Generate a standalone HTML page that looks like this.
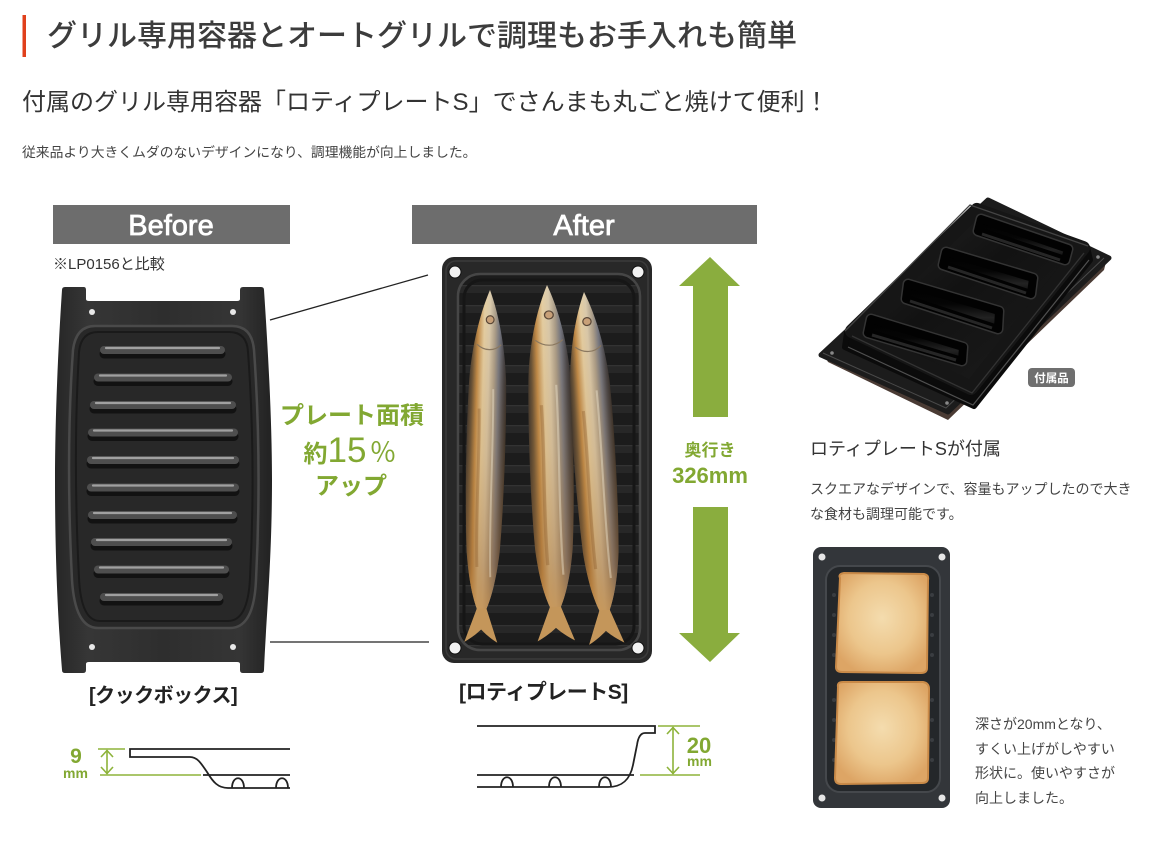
<!DOCTYPE html>
<html><head><meta charset="utf-8">
<style>
html,body{margin:0;padding:0;background:#fff;}
body{width:1153px;height:841px;position:relative;overflow:hidden;}
.t{position:absolute;white-space:nowrap;font-family:"Liberation Sans","Noto Sans CJK JP",sans-serif;line-height:1;color:#333;}
svg text{font-family:"Liberation Sans","Noto Sans CJK JP",sans-serif;}
</style></head><body>
<svg width="1153" height="841" style="position:absolute;left:0;top:0" xmlns="http://www.w3.org/2000/svg">
<defs>
  <linearGradient id="bp" x1="0" x2="1" y1="0" y2="0">
    <stop offset="0" stop-color="#262626"/><stop offset="0.15" stop-color="#363636"/>
    <stop offset="0.5" stop-color="#2e2e2e"/><stop offset="0.85" stop-color="#353535"/><stop offset="1" stop-color="#222"/>
  </linearGradient>
  <linearGradient id="fishG" x1="0" x2="1" y1="0" y2="0">
    <stop offset="0" stop-color="#26262a"/><stop offset="0.1" stop-color="#5e4c36"/>
    <stop offset="0.22" stop-color="#c08a48"/><stop offset="0.38" stop-color="#e8d4aa"/>
    <stop offset="0.52" stop-color="#dccfb4"/><stop offset="0.66" stop-color="#aaa090"/>
    <stop offset="0.78" stop-color="#6c7486"/><stop offset="0.9" stop-color="#3a3e4a"/><stop offset="1" stop-color="#1e1e22"/>
  </linearGradient>
  <linearGradient id="fishV" x1="0" x2="0" y1="0" y2="1">
    <stop offset="0" stop-color="#b07a38" stop-opacity="0.05"/><stop offset="0.5" stop-color="#b07a38" stop-opacity="0.25"/>
    <stop offset="0.85" stop-color="#a06a30" stop-opacity="0.5"/><stop offset="1" stop-color="#c08a48" stop-opacity="0.8"/>
  </linearGradient>
  <pattern id="rib" patternUnits="userSpaceOnUse" width="20" height="20">
    <rect width="20" height="20" fill="#1c1c1c"/><rect y="5" width="20" height="8" fill="#272727"/><rect y="5" width="20" height="1.2" fill="#333"/>
  </pattern>
  <radialGradient id="toast" cx="0.5" cy="0.45" r="0.6">
    <stop offset="0" stop-color="#f4dcae"/><stop offset="0.6" stop-color="#ecc68c"/><stop offset="1" stop-color="#dda565"/>
  </radialGradient>
  <linearGradient id="trayTop" x1="0" x2="1" y1="0" y2="1">
    <stop offset="0" stop-color="#262626"/><stop offset="0.45" stop-color="#121212"/><stop offset="1" stop-color="#1e1e1e"/>
  </linearGradient>
  <linearGradient id="comp" x1="0" x2="0" y1="0" y2="1">
    <stop offset="0" stop-color="#000"/><stop offset="0.45" stop-color="#050505"/><stop offset="0.75" stop-color="#222"/><stop offset="1" stop-color="#0a0a0a"/>
  </linearGradient>
  <g id="fish">
    <path d="M0,0 C6,15 16,45 19,90 C21,140 20,220 17,265 C14,295 9,312 5,322 L5,326 L-5,326 L-5,322 C-9,312 -14,295 -17,265 C-20,220 -21,140 -19,90 C-16,45 -6,15 0,0 Z" fill="url(#fishG)"/>
    <path d="M0,0 C6,15 16,45 19,90 C21,140 20,220 17,265 C14,295 9,312 5,322 L5,326 L-5,326 L-5,322 C-9,312 -14,295 -17,265 C-20,220 -21,140 -19,90 C-16,45 -6,15 0,0 Z" fill="url(#fishV)"/>
    <path d="M-8,120 C-6,170 -9,220 -6,280" stroke="#8a5a28" stroke-width="3" fill="none" opacity="0.35"/>
    <path d="M6,100 C8,160 5,230 8,290" stroke="#f2ead8" stroke-width="2" fill="none" opacity="0.4"/>
    <path d="M-5,322 L5,322 L17,356 C10,352 4,347 0,343 C-4,347 -10,352 -17,356 Z" fill="#c4965a"/>
    <circle cx="1" cy="30" r="4" fill="#c8a078" stroke="#5a4838" stroke-width="1.2"/>
    <path d="M-12,55 C-4,62 6,62 13,55" stroke="#8a7860" stroke-width="1.2" fill="none"/>
  </g>
</defs>

<!-- header red bar -->
<rect x="22.5" y="15" width="3.5" height="42" fill="#e0401c"/>

<!-- Before / After bars -->
<rect x="53" y="205" width="237" height="39" fill="#6d6d6d"/>
<text x="171" y="235" font-size="29" fill="#fff" stroke="#fff" stroke-width="0.8" text-anchor="middle">Before</text>
<rect x="412" y="205" width="345" height="39" fill="#6d6d6d"/>
<text x="584" y="235" font-size="29" fill="#fff" stroke="#fff" stroke-width="0.8" text-anchor="middle">After</text>

<!-- Before plate -->
<path d="M62,290 Q62,287 65,287 L84,287 Q86,287 86,290 L86,299 Q86,301 89,301 L237,301 Q240,301 240,299 L240,290 Q240,287 243,287 L261,287 Q264,287 264,290 C268,350 272,420 272,480 C272,560 266,620 264,670 Q264,673 261,673 L243,673 Q240,673 240,670 L240,664 Q240,662 237,662 L89,662 Q86,662 86,664 L86,670 Q86,673 83,673 L65,673 Q62,673 62,670 C58,620 55,560 55,480 C55,420 58,350 62,290 Z" fill="url(#bp)"/>
<path d="M95,326 L232,326 Q252,326 254,350 C259,420 260,500 256,580 Q254,628 230,628 L98,628 Q75,628 72,580 C68,500 68,420 73,350 Q76,326 95,326 Z" fill="#282828" stroke="#4a4a4a" stroke-width="2.5"/>
<path d="M98,332 L229,332 Q247,332 248,352 C253,420 254,500 250,578 Q248,621 228,621 L100,621 Q81,621 79,578 C75,500 75,420 79,352 Q81,332 98,332 Z" fill="none" stroke="#1a1a1a" stroke-width="2"/>
<g stroke-linecap="round">
  <g stroke="#121212" stroke-width="9">
    <line x1="104" y1="354" x2="221" y2="354"/><line x1="98" y1="381.5" x2="228" y2="381.5"/><line x1="94" y1="409" x2="232" y2="409"/><line x1="92" y1="436.5" x2="234" y2="436.5"/><line x1="91" y1="464" x2="235" y2="464"/><line x1="91" y1="491.5" x2="235" y2="491.5"/><line x1="92" y1="519" x2="233" y2="519"/><line x1="95" y1="546" x2="228" y2="546"/><line x1="98" y1="573.5" x2="225" y2="573.5"/><line x1="104" y1="601" x2="219" y2="601"/>
  </g>
  <g stroke="#4e4e4e" stroke-width="8">
    <line x1="104" y1="350" x2="221" y2="350"/><line x1="98" y1="377.5" x2="228" y2="377.5"/><line x1="94" y1="405" x2="232" y2="405"/><line x1="92" y1="432.5" x2="234" y2="432.5"/><line x1="91" y1="460" x2="235" y2="460"/><line x1="91" y1="487.5" x2="235" y2="487.5"/><line x1="92" y1="515" x2="233" y2="515"/><line x1="95" y1="542" x2="228" y2="542"/><line x1="98" y1="569.5" x2="225" y2="569.5"/><line x1="104" y1="597" x2="219" y2="597"/>
  </g>
  <g stroke="#a0a0a0" stroke-width="2.2">
    <line x1="106" y1="348" x2="219" y2="348"/><line x1="100" y1="375.5" x2="226" y2="375.5"/><line x1="96" y1="403" x2="230" y2="403"/><line x1="94" y1="430.5" x2="232" y2="430.5"/><line x1="93" y1="458" x2="233" y2="458"/><line x1="93" y1="485.5" x2="233" y2="485.5"/><line x1="94" y1="513" x2="231" y2="513"/><line x1="97" y1="540" x2="226" y2="540"/><line x1="100" y1="567.5" x2="223" y2="567.5"/><line x1="106" y1="595" x2="217" y2="595"/>
  </g>
</g>
<circle cx="92" cy="312" r="3" fill="#e8e8e8"/><circle cx="233" cy="312" r="3" fill="#e8e8e8"/>
<circle cx="92" cy="647" r="3" fill="#e8e8e8"/><circle cx="233" cy="647" r="3" fill="#e8e8e8"/>

<!-- connector lines -->
<line x1="270" y1="320" x2="428" y2="275" stroke="#222" stroke-width="1.3"/>
<line x1="270" y1="642" x2="429" y2="642" stroke="#222" stroke-width="1.3"/>

<!-- green center text -->
<text x="352" y="423.5" font-size="24" font-weight="bold" fill="#82a832" text-anchor="middle">プレート面積</text>
<text x="350" y="462" fill="#82a832" text-anchor="middle"><tspan font-size="24" font-weight="bold">約</tspan><tspan font-size="35">15</tspan><tspan font-size="27" dx="3">％</tspan></text>
<text x="351" y="494" font-size="24" font-weight="bold" fill="#82a832" text-anchor="middle">アップ</text>

<!-- After plate -->
<rect x="442" y="257" width="210" height="406" rx="12" fill="#282828"/>
<rect x="446" y="261" width="202" height="398" rx="10" fill="none" stroke="#3a3a3a" stroke-width="1.5"/>
<rect x="458" y="274" width="182" height="376" rx="22" fill="url(#rib)" stroke="#464646" stroke-width="2.5"/>
<rect x="464" y="280" width="170" height="364" rx="18" fill="none" stroke="#161616" stroke-width="3"/>
<circle cx="455" cy="272" r="6" fill="#f2f2f2" stroke="#111" stroke-width="1"/>
<circle cx="638" cy="272" r="6" fill="#f2f2f2" stroke="#111" stroke-width="1"/>
<circle cx="455" cy="648" r="6" fill="#f2f2f2" stroke="#111" stroke-width="1"/>
<circle cx="638" cy="648" r="6" fill="#f2f2f2" stroke="#111" stroke-width="1"/>
<use href="#fish" transform="translate(490,290) rotate(1.5) scale(0.97,0.99)"/>
<use href="#fish" transform="translate(547,285) rotate(-1.5) scale(1.1,1)"/>
<use href="#fish" transform="translate(584,292) rotate(-3.7) scale(1.04,0.99)"/>

<!-- arrows -->
<polygon points="710,257 740,286 728,286 728,417 693,417 693,286 679,286" fill="#8aad3e"/>
<polygon points="693,507 728,507 728,633 740,633 710,662 679,633 693,633" fill="#8aad3e"/>
<text x="710" y="456" font-size="17" font-weight="bold" fill="#82a832" text-anchor="middle">奥行き</text>
<text x="710" y="483" font-size="22" font-weight="bold" fill="#82a832" text-anchor="middle">326mm</text>

<!-- Before cross-section -->
<g stroke="#8db33a" stroke-width="1.6" fill="none">
  <line x1="98" y1="749" x2="125" y2="749"/>
  <line x1="100" y1="775" x2="201" y2="775"/>
  <line x1="107" y1="750" x2="107" y2="774"/>
  <polyline points="101,757 107,750.5 113,757"/>
  <polyline points="101,767 107,773.5 113,767"/>
</g>
<text x="76" y="763" font-size="21" font-weight="bold" fill="#82a832" text-anchor="middle">9</text>
<text x="75.5" y="778" font-size="14" font-weight="bold" fill="#82a832" text-anchor="middle">mm</text>
<g stroke="#222" stroke-width="1.8" fill="none">
  <path d="M290,749 L130,749 L130,757 L190,757 C198,757 202,765 207,772 C213,782 218,788 228,788 L290,788"/>
  <line x1="203" y1="775" x2="290" y2="775"/>
  <path d="M232,788 C232,775 244,775 244,788"/>
  <path d="M276,788 C276,775 288,775 288,788"/>
</g>

<!-- After cross-section -->
<g stroke="#222" stroke-width="1.8" fill="none">
  <path d="M477,726 L655,726 L655,733 L645,733 C640,733 638,738 637,745 L633,765 C630,780 622,787 608,787 L477,787"/>
  <line x1="477" y1="775" x2="634" y2="775"/>
  <path d="M501,787 C501,774 513,774 513,787"/>
  <path d="M549,787 C549,774 561,774 561,787"/>
  <path d="M599,787 C599,774 611,774 611,787"/>
</g>
<g stroke="#8db33a" stroke-width="1.6" fill="none">
  <line x1="658" y1="726" x2="700" y2="726"/>
  <line x1="640" y1="775" x2="700" y2="775"/>
  <line x1="673" y1="727" x2="673" y2="774"/>
  <polyline points="667,734 673,727.5 679,734"/>
  <polyline points="667,767 673,773.5 679,767"/>
</g>
<text x="699" y="753" font-size="22" font-weight="bold" fill="#82a832" text-anchor="middle">20</text>
<text x="699.5" y="766" font-size="14" font-weight="bold" fill="#82a832" text-anchor="middle">mm</text>

<!-- 3D tray (right top) -->
<polygon points="828,362 948,420 1104,270 1106,262 948,412 825,356" fill="#4a3b34"/>
<polygon points="821,355 948,412 1109,258 988,200" fill="#1c1c1c" stroke="#1c1c1c" stroke-width="5" stroke-linejoin="round"/>
<path d="M823,353 L946,408 L1104,258" stroke="#4a4a4a" stroke-width="1" fill="none"/>
<circle cx="832" cy="353" r="1.8" fill="#888"/><circle cx="947" cy="403" r="1.8" fill="#888"/><circle cx="1098" cy="257" r="1.8" fill="#888"/>
<polygon points="847,333 972,393 1087,247 1090,260 974,406 845,347" fill="#0b0b0b" stroke="#0b0b0b" stroke-width="6" stroke-linejoin="round"/>
<path d="M848,347 L973,405 L1089,260" stroke="#505050" stroke-width="1.2" fill="none"/>
<polygon points="977,210 1083,248 971,388 852,331" fill="url(#trayTop)" stroke="#161616" stroke-width="14" stroke-linejoin="round"/>
<path d="M845,331 L970,205 L1088,246" stroke="#444" stroke-width="1.3" fill="none"/>
<path d="M852,336 L972,393 L1084,253" stroke="#333" stroke-width="1.3" fill="none"/>
<g stroke-linejoin="round">
  <g stroke="#343434" stroke-width="11" fill="#343434">
    <polygon points="981,219 1068,249 1065,260 978,231"/>
    <polygon points="946,252 1033,278 1031,294 943,265"/>
    <polygon points="908,284 999,311 998,329 906,299"/>
    <polygon points="871,319 963,347 962,361 868,333"/>
  </g>
  <g stroke="#020202" stroke-width="8" fill="url(#comp)">
    <polygon points="981,219 1068,249 1065,260 978,231"/>
    <polygon points="946,252 1033,278 1031,294 943,265"/>
    <polygon points="908,284 999,311 998,329 906,299"/>
    <polygon points="871,319 963,347 962,361 868,333"/>
  </g>
</g>
<g stroke="#262626" stroke-width="3" fill="none">
  <path d="M982,234 L1060,260"/><path d="M948,267 L1026,293"/><path d="M910,301 L992,328"/><path d="M872,335 L956,360"/>
</g>
<rect x="1028" y="368" width="47" height="19" rx="4" fill="#6f6f6f"/>
<text x="1051.5" y="382" font-size="11.5" font-weight="bold" fill="#fff" text-anchor="middle">付属品</text>

<!-- Toast plate -->
<rect x="813" y="547" width="137" height="261" rx="8" fill="#33363a"/>
<rect x="826" y="566" width="114" height="226" rx="14" fill="#24272a" stroke="#45484c" stroke-width="2"/>
<g fill="#3a3d41">
  <circle cx="834" cy="595" r="2"/><circle cx="834" cy="615" r="2"/><circle cx="834" cy="635" r="2"/><circle cx="834" cy="655" r="2"/><circle cx="834" cy="700" r="2"/><circle cx="834" cy="720" r="2"/><circle cx="834" cy="740" r="2"/><circle cx="834" cy="760" r="2"/>
  <circle cx="932" cy="595" r="2"/><circle cx="932" cy="615" r="2"/><circle cx="932" cy="635" r="2"/><circle cx="932" cy="655" r="2"/><circle cx="932" cy="700" r="2"/><circle cx="932" cy="720" r="2"/><circle cx="932" cy="740" r="2"/><circle cx="932" cy="760" r="2"/>
</g>
<circle cx="822" cy="557" r="3.5" fill="#e6e6e6"/><circle cx="942" cy="557" r="3.5" fill="#e6e6e6"/>
<circle cx="822" cy="798" r="3.5" fill="#e6e6e6"/><circle cx="942" cy="798" r="3.5" fill="#e6e6e6"/>
<path d="M840,578 Q838,574 844,573 L924,574 Q929,575 928,580 L927,668 Q927,673 921,673 L842,672 Q836,672 836,667 Z" fill="url(#toast)" stroke="#c98a48" stroke-width="2"/>
<path d="M838,687 Q837,682 843,682 L923,682 Q929,683 929,689 L928,778 Q928,783 922,783 L841,784 Q835,784 835,778 Z" fill="url(#toast)" stroke="#c98a48" stroke-width="2"/>
</svg>

<div class="t" style="left:47px;top:22px;font-size:30px;font-weight:500;color:#3c3c3c;">グリル専用容器とオートグリルで調理もお手入れも簡単</div>
<div class="t" style="left:22px;top:91px;font-size:24px;color:#333;">付属のグリル専用容器「ロティプレートS」でさんまも丸ごと焼けて便利！</div>
<div class="t" style="left:22px;top:146px;font-size:13.8px;color:#444;">従来品より大きくムダのないデザインになり、調理機能が向上しました。</div>
<div class="t" style="left:53px;top:257px;font-size:15px;color:#333;">※LP0156と比較</div>
<div class="t" style="left:89px;top:686px;font-size:20px;font-weight:bold;color:#222;letter-spacing:-0.5px;">[クックボックス]</div>
<div class="t" style="left:459px;top:682px;font-size:21px;font-weight:bold;color:#222;letter-spacing:-0.5px;">[ロティプレートS]</div>
<div class="t" style="left:810px;top:440px;font-size:18px;color:#333;">ロティプレートSが付属</div>
<div class="t" style="left:810px;top:477px;font-size:14px;line-height:25px;color:#444;">スクエアなデザインで、容量もアップしたので大き<br>な食材も調理可能です。</div>
<div class="t" style="left:975px;top:712px;font-size:14px;line-height:24.5px;color:#444;">深さが20mmとなり、<br>すくい上げがしやすい<br>形状に。使いやすさが<br>向上しました。</div>
</body></html>
